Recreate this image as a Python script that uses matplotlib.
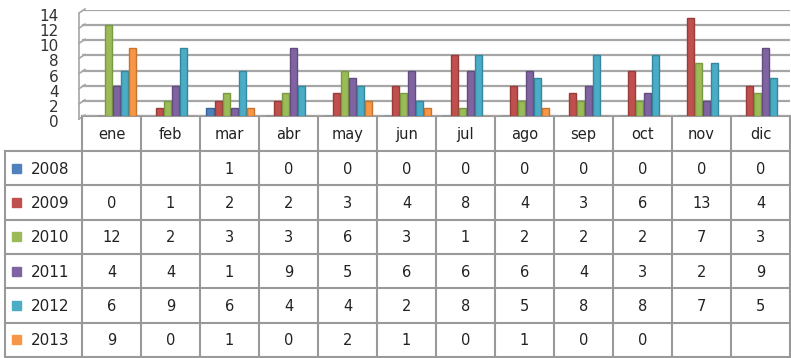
import numpy as np
import matplotlib.pyplot as plt
from matplotlib.transforms import ScaledTranslation

months = ['ene', 'feb', 'mar', 'abr', 'may', 'jun', 'jul', 'ago', 'sep', 'oct', 'nov', 'dic']
years = ['2008', '2009', '2010', '2011', '2012', '2013']
nan = np.nan
v2008 = [nan, nan, 1, 0, 0, 0, 0, 0, 0, 0, 0, 0]
v2009 = [0, 1, 2, 2, 3, 4, 8, 4, 3, 6, 13, 4]
v2010 = [12, 2, 3, 3, 6, 3, 1, 2, 2, 2, 7, 3]
v2011 = [4, 4, 1, 9, 5, 6, 6, 6, 4, 3, 2, 9]
v2012 = [6, 9, 6, 4, 4, 2, 8, 5, 8, 8, 7, 5]
v2013 = [9, 0, 1, 0, 2, 1, 0, 1, 0, 0, nan, nan]
series = [v2008, v2009, v2010, v2011, v2012, v2013]
colors = ['#4F81BD', '#C0504D', '#9BBB59', '#8064A2', '#4BACC6', '#F79646']
edges = ['#3A6496', '#983C3A', '#789A40', '#624C80', '#34889E', '#C8742E']

W, H = 791, 358
fig = plt.figure(figsize=(W / 100, H / 100), dpi=100)

# pixel-space layer for the data table
ov = fig.add_axes([0, 0, 1, 1])
ov.set_xlim(0, W)
ov.set_ylim(H, 0)
ov.axis('off')

x0, cw = 82, 59
head_top, head_bot = 116, 151
rh = (357 - head_bot) / 6
plot_top = 10

ax = fig.add_axes([x0 / W, 1 - head_top / H, 12 * cw / W, (head_top - plot_top) / H])
ax.set_facecolor('none')
x = np.arange(len(months))
bw = 0.12
for k, (vals, c, e) in enumerate(zip(series, colors, edges)):
    ax.bar(x - 0.33 + k * 0.137, vals, width=bw, color=c, edgecolor=e,
           linewidth=1, zorder=3)
ax.set_xlim(-0.5, 11.5)
ax.set_ylim(0, 14)
ax.set_yticks(range(0, 15, 2))
ax.set_xticks([])
ax.tick_params(axis='y', length=0, labelsize=11, pad=17, colors='#333333')
off = ScaledTranslation(0, -5 / 100, fig.dpi_scale_trans)
for lbl in ax.get_yticklabels():
    lbl.set_transform(lbl.get_transform() + off)
ax.grid(axis='y', color='#A6A6A6', linewidth=1.6, zorder=0)
for s in ax.spines.values():
    s.set_visible(False)

# small slanted ends of the gridlines on the side wall
for yv in range(0, 15, 2):
    yp = head_top - 1 - yv * (head_top - plot_top) / 14
    ov.plot([x0 - 3, x0 + 3], [yp + 4, yp], color='#A6A6A6', lw=1.2)
ov.plot([x0 - 3, x0 - 3], [plot_top + 4, head_top + 3], color='#A6A6A6', lw=1.2)

lc, lw = '#999999', 1.5
right = x0 + 12 * cw
# header row
ov.plot([x0, right], [head_top, head_top], color=lc, lw=lw)
for i in range(13):
    ov.plot([x0 + i * cw] * 2, [head_top, 357], color=lc, lw=lw)
for i, m in enumerate(months):
    ov.text(x0 + (i + 0.5) * cw, (head_top + head_bot) / 2 + 1, m,
            ha='center', va='center', fontsize=10.5, color='#222222')
# body rows
for j in range(7):
    yl = head_bot + j * rh
    ov.plot([5, right], [yl, yl], color=lc, lw=lw)
ov.plot([5, 5], [head_bot, 357], color=lc, lw=lw)
for j, (yr, vals, c) in enumerate(zip(years, series, colors)):
    yc = head_bot + (j + 0.5) * rh
    ov.add_patch(plt.Rectangle((12, yc - 4.5), 9, 9, color=c))
    ov.text(31, yc + 1, yr, ha='left', va='center', fontsize=11, color='#222222')
    for i, v in enumerate(vals):
        if not np.isnan(v):
            ov.text(x0 + (i + 0.5) * cw, yc + 1, f'{int(v)}', ha='center',
                    va='center', fontsize=10.5, color='#222222')

fig.savefig('out.png', dpi=100)
